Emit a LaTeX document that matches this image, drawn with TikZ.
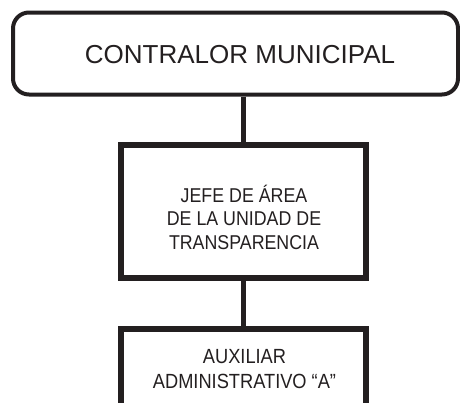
\documentclass[tikz,border=0pt]{standalone}
\usepackage{fontspec}
\setmainfont{Liberation Sans}
\newfontfamily\narrowfont[FakeStretch=0.89]{Liberation Sans}
\definecolor{ink}{HTML}{231F20}
\begin{document}
\begin{tikzpicture}[x=1pt,y=-1pt,
  topbox/.style={draw=ink, line width=4pt, rounded corners=16pt, minimum width=445pt, minimum height=82pt, inner sep=0pt},
  plainbox/.style={draw=ink, line width=5.7pt, minimum width=245pt, inner sep=0pt},
  link/.style={draw=ink, line width=5pt},
  boxtext/.style={text=ink, font=\narrowfont\fontsize{20}{23.5}\selectfont, align=center, inner sep=0pt}]
\useasboundingbox (0,0) rectangle (460,402);
\clip (0,0) rectangle (460,402);
\node[topbox] (top) at (235.5,53.5) {};
\node[text=ink, font=\fontsize{26}{30}\selectfont, inner sep=0pt, anchor=base] (toptext) at (240,63.3) {CONTRALOR MUNICIPAL};
\node[plainbox, minimum height=133pt] (mid) at (243.5,211.5) {};
\node[boxtext, anchor=base] (midtext) at (244,249) {JEFE DE ÁREA\\DE LA UNIDAD DE\\TRANSPARENCIA};
\node[plainbox, minimum height=160pt] (low) at (243.5,409) {};
\node[boxtext, anchor=base, font=\narrowfont\fontsize{20.5}{25}\selectfont] (lowtext) at (244.5,388.3) {AUXILIAR\\ADMINISTRATIVO “A”};
\draw[link] (top.south -| mid.north) -- (mid.north);
\draw[link] (mid.south) -- (low.north);
\end{tikzpicture}
\end{document}
